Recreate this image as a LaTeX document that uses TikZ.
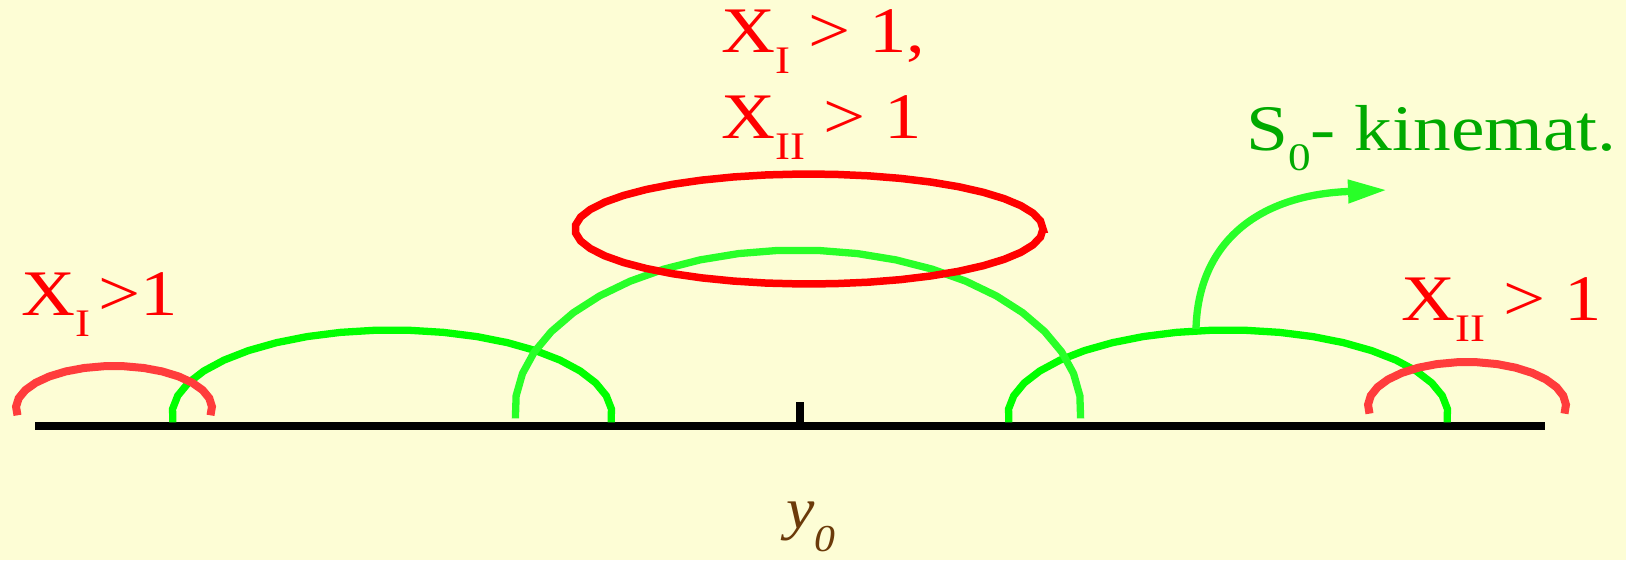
\documentclass[tikz,border=0pt]{standalone}
\usepackage{fontspec}
\setmainfont{Liberation Serif}
\usetikzlibrary{arrows.meta}
\definecolor{bgc}{RGB}{253,253,213}
\definecolor{redA}{RGB}{255,0,0}
\definecolor{redB}{RGB}{255,60,60}
\definecolor{grnA}{RGB}{0,255,0}
\definecolor{grnB}{RGB}{40,255,40}
\definecolor{grnT}{RGB}{0,170,0}
\definecolor{brn}{RGB}{107,58,10}
\newcommand{\sbs}[2][21pt]{\raisebox{-#1}{\fontsize{39}{40}\selectfont #2}}
\tikzset{
  lbl/.style={inner sep=0pt, anchor=base west, font=\fontsize{65}{70}\selectfont, text=redA},
  glbl/.style={lbl, text=grnT},
  axisline/.style={line width=8pt, black},
  redarc/.style={line width=8pt, redB},
  redell/.style={line width=7.5pt, redA},
  grnarc/.style={line width=7.3pt, grnA},
  grnarcB/.style={line width=7.3pt, grnB},
  grnarrow/.style={line width=7.3pt, grnB, -{Triangle[length=39pt,width=22pt]}}
}
\begin{document}
\begin{tikzpicture}[x=1pt,y=-1pt]
\fill[bgc] (0,0) rectangle (1626,560);
\useasboundingbox (0,0) rectangle (1626,560);
% axis
\coordinate (axL) at (35,426);
\coordinate (axR) at (1545,426);
\coordinate (tickB) at (800,423);
\coordinate (tickT) at (800,402);
\draw[axisline] (axL) -- (axR);
\draw[line width=8pt] (tickB) -- (tickT);
% green arcs
\draw[grnarc] plot[domain=185:-5, samples=22] ({392+220*cos(\x)}, {415-85*sin(\x)});
\draw[grnarc] plot[domain=185:-5, samples=22] ({1228+220*cos(\x)}, {415-85*sin(\x)});
\draw[grnarcB] plot[domain=183:-3, samples=24] ({798+283*cos(\x)}, {410-160*sin(\x)});
% arrow
\coordinate (arS) at (1196,329);
\coordinate (arE) at (1387,190);
\draw[grnarrow] (arS) .. controls (1198,245) and (1255,195) .. (arE);
% red arcs
\draw[redarc] plot[domain=190:-10, samples=18] ({114+98*cos(\x)}, {408-42*sin(\x)});
\draw[redarc] plot[domain=190:-10, samples=18] ({1467+99*cos(\x)}, {406-44*sin(\x)});
% red ellipse
\draw[redell] plot[domain=0:360, samples=44] ({809+234*cos(\x)}, {229-55*sin(\x)}) -- cycle;
% labels
\node[lbl] (lblL) at (21,315) {\scalebox{1.15}[1]{X\sbs{I}\hspace{7pt}>1}};
\node[lbl] (lblT1) at (721,52) {\scalebox{1.15}[1]{X\sbs{I} > 1,}};
\node[lbl] (lblT2) at (721,138) {\scalebox{1.15}[1]{X\sbs{II} > 1}};
\node[lbl] (lblR) at (1401,320) {\scalebox{1.15}[1]{X\sbs{II} > 1}};
\node[glbl] (lblS) at (1246,150) {\scalebox{1.16}[1]{S\sbs[20pt]{0}- kinemat.}};
\node[lbl, text=brn] (lblY) at (786,528) {\scalebox{1.1}[1]{\fontsize{58}{60}\selectfont\itshape y\raisebox{-23pt}{\fontsize{38}{40}\selectfont 0}}};
\end{tikzpicture}
\end{document}
